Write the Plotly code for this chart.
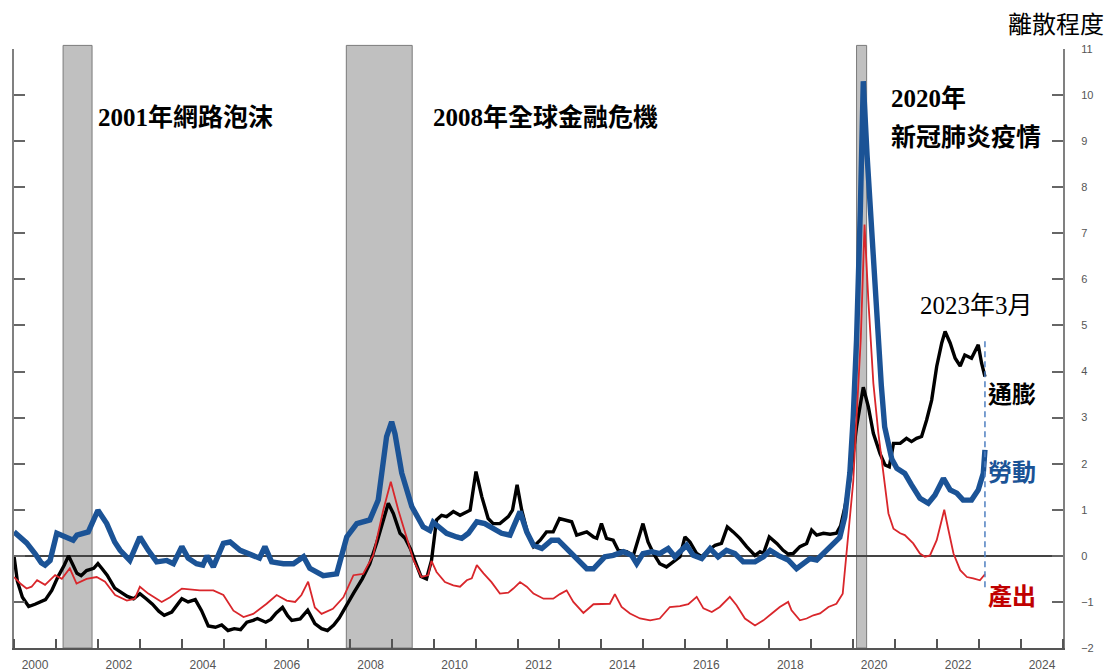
import plotly.graph_objects as go

# ---------------- data (decimal years, dispersion values) ----------------
infl_t = [2000.00,2000.08,2000.20,2000.35,2000.50,2000.62,2000.75,2000.90,2001.05,2001.20,2001.30,2001.38,2001.50,2001.60,2001.73,2001.90,
          2002.00,2002.10,2002.22,2002.40,2002.55,2002.70,2002.85,2003.00,2003.15,2003.30,2003.45,2003.58,2003.76,2003.90,
          2004.00,2004.15,2004.32,2004.47,2004.63,2004.80,2004.95,2005.10,2005.25,2005.40,2005.55,2005.70,2005.80,
          2006.00,2006.12,2006.25,2006.40,2006.52,2006.62,2006.82,2007.00,2007.17,2007.33,2007.47,2007.62,2007.75,2007.93,
          2008.10,2008.30,2008.48,2008.65,2008.80,2008.92,2009.04,2009.20,2009.32,2009.45,2009.55,2009.70,2009.83,2009.95,
          2010.07,2010.19,2010.31,2010.47,2010.63,2010.87,2011.01,2011.15,2011.30,2011.42,2011.58,2011.78,2011.88,2011.99,
          2012.10,2012.22,2012.38,2012.54,2012.69,2012.85,2013.00,2013.17,2013.29,2013.41,2013.65,2013.81,2013.89,
          2014.00,2014.12,2014.28,2014.40,2014.60,2014.76,2014.99,2015.11,2015.24,2015.39,2015.55,2015.71,2015.87,2015.99,
          2016.11,2016.27,2016.39,2016.55,2016.71,2016.86,2017.00,2017.14,2017.30,2017.46,2017.66,2017.78,2017.86,
          2018.00,2018.18,2018.33,2018.45,2018.57,2018.73,2018.89,2019.01,2019.13,2019.29,2019.45,2019.60,2019.70,2019.80,2019.92,
          2020.08,2020.24,2020.36,2020.48,2020.64,2020.76,2020.86,2020.96,2021.12,2021.27,2021.39,2021.51,2021.63,2021.75,2021.87,
          2021.99,2022.11,2022.19,2022.31,2022.43,2022.55,2022.66,2022.82,2022.98,2023.06,2023.14]
infl_v = [0.0,-0.55,-0.9,-1.1,-1.05,-1.0,-0.95,-0.75,-0.45,-0.2,0.0,-0.15,-0.38,-0.43,-0.32,-0.27,
          -0.17,-0.28,-0.42,-0.7,-0.78,-0.88,-0.93,-0.82,-0.93,-1.05,-1.2,-1.29,-1.22,-1.05,
          -0.93,-1.0,-0.95,-1.19,-1.52,-1.55,-1.5,-1.62,-1.58,-1.6,-1.44,-1.4,-1.36,
          -1.44,-1.38,-1.24,-1.12,-1.3,-1.4,-1.37,-1.18,-1.47,-1.58,-1.62,-1.5,-1.35,-1.05,
          -0.8,-0.5,-0.17,0.3,0.8,1.14,0.92,0.49,0.38,0.15,-0.1,-0.45,-0.5,-0.1,
          0.78,0.88,0.85,0.96,0.88,0.99,1.83,1.28,0.81,0.70,0.70,0.85,0.99,1.54,
          0.99,0.56,0.2,0.34,0.52,0.52,0.81,0.78,0.74,0.45,0.52,0.41,0.38,
          0.70,0.38,0.34,0.12,0.09,0.01,0.70,0.30,0.05,-0.17,-0.24,-0.13,-0.02,0.41,
          0.30,0.05,-0.02,0.12,0.23,0.27,0.63,0.52,0.38,0.2,0.01,0.09,0.05,
          0.41,0.27,0.12,0.04,0.05,0.2,0.27,0.56,0.45,0.49,0.47,0.49,0.65,1.05,1.64,
          2.8,3.66,3.24,2.66,2.22,1.97,1.93,2.44,2.44,2.55,2.48,2.55,2.59,2.95,3.38,
          4.11,4.62,4.87,4.62,4.29,4.12,4.36,4.29,4.58,4.18,3.89]

labor_t = [2000.00,2000.15,2000.30,2000.50,2000.65,2000.74,2000.86,2001.02,2001.18,2001.30,2001.41,2001.50,2001.65,2001.77,
           2002.00,2002.21,2002.40,2002.53,2002.76,2003.00,2003.20,2003.40,2003.64,2003.80,2004.00,2004.15,2004.35,2004.50,
           2004.60,2004.75,2004.99,2005.15,2005.39,2005.70,2005.85,2005.98,2006.14,2006.42,2006.66,2006.90,2007.05,2007.37,
           2007.55,2007.69,2007.93,2008.17,2008.48,2008.68,2008.88,2009.00,2009.08,2009.24,2009.48,2009.75,2009.91,2009.99,
           2010.07,2010.31,2010.55,2010.67,2010.83,2011.03,2011.22,2011.42,2011.62,2011.82,2012.06,2012.22,2012.38,2012.58,
           2012.81,2012.97,2013.17,2013.41,2013.65,2013.81,2013.97,2014.08,2014.28,2014.52,2014.72,2014.84,2014.99,2015.20,
           2015.39,2015.59,2015.75,2015.87,2016.03,2016.19,2016.39,2016.59,2016.78,2016.98,2017.18,2017.38,2017.66,2017.86,
           2018.02,2018.21,2018.45,2018.65,2018.81,2018.97,2019.13,2019.33,2019.52,2019.68,2019.80,2019.92,2020.00,2020.08,
           2020.17,2020.24,2020.33,2020.42,2020.50,2020.58,2020.67,2020.75,2020.83,2020.92,2021.04,2021.23,2021.39,2021.59,
           2021.79,2021.95,2022.15,2022.31,2022.47,2022.62,2022.82,2022.98,2023.10,2023.14]
labor_v = [0.52,0.4,0.28,0.05,-0.15,-0.2,-0.1,0.49,0.42,0.4,0.34,0.45,0.48,0.52,
           0.99,0.7,0.3,0.12,-0.1,0.41,0.12,-0.13,-0.1,-0.17,0.2,-0.05,-0.17,-0.2,
           0.0,-0.24,0.27,0.3,0.12,0.01,-0.05,0.2,-0.13,-0.17,-0.17,-0.02,-0.27,-0.43,
           -0.4,-0.39,0.41,0.7,0.78,1.21,2.59,2.91,2.65,1.8,1.07,0.63,0.55,0.73,
           0.67,0.49,0.41,0.38,0.49,0.74,0.70,0.59,0.49,0.45,0.96,0.52,0.23,0.16,
           0.34,0.34,0.16,-0.09,-0.28,-0.28,-0.13,-0.02,0.01,0.09,0.01,-0.17,0.05,0.09,
           0.05,0.16,-0.02,0.09,0.23,0.01,-0.06,0.16,-0.02,0.12,0.05,-0.13,-0.13,-0.02,
           0.12,0.01,-0.09,-0.28,-0.17,-0.06,-0.09,0.09,0.23,0.4,0.85,1.8,3.0,4.7,
           7.5,10.3,8.7,7.3,6.0,4.7,3.7,2.8,2.4,2.1,1.9,1.79,1.54,1.25,
           1.14,1.32,1.68,1.43,1.36,1.21,1.21,1.43,1.79,2.3]

output_t = [2000.00,2000.15,2000.30,2000.42,2000.55,2000.74,2000.98,2001.14,2001.33,2001.49,2001.73,2001.97,2002.17,2002.41,
            2002.69,2002.88,2003.00,2003.20,2003.52,2003.72,2004.00,2004.43,2004.75,2004.99,2005.23,2005.47,2005.70,2006.02,
            2006.26,2006.50,2006.70,2006.85,2007.01,2007.17,2007.33,2007.60,2007.85,2008.09,2008.32,2008.56,2008.80,2008.98,
            2009.16,2009.32,2009.52,2009.71,2009.87,2009.95,2010.07,2010.27,2010.47,2010.63,2010.79,2010.91,2011.03,2011.19,
            2011.38,2011.58,2011.78,2011.90,2012.06,2012.22,2012.38,2012.62,2012.85,2013.01,2013.17,2013.33,2013.57,2013.81,
            2014.04,2014.20,2014.32,2014.48,2014.68,2014.92,2015.16,2015.39,2015.63,2015.87,2016.07,2016.27,2016.43,2016.63,
            2016.82,2017.06,2017.22,2017.42,2017.66,2017.86,2018.06,2018.25,2018.45,2018.53,2018.73,2018.89,2019.05,2019.21,
            2019.41,2019.60,2019.75,2019.84,2019.92,2020.00,2020.08,2020.18,2020.27,2020.36,2020.48,2020.60,2020.72,2020.84,
            2020.96,2021.12,2021.23,2021.43,2021.59,2021.71,2021.83,2021.99,2022.11,2022.17,2022.27,2022.39,2022.55,2022.71,
            2022.86,2023.02,2023.14]
output_v = [-0.46,-0.6,-0.71,-0.67,-0.53,-0.63,-0.42,-0.5,-0.27,-0.6,-0.5,-0.46,-0.56,-0.85,
            -0.97,-0.93,-0.67,-0.82,-1.0,-0.9,-0.71,-0.75,-0.75,-0.85,-1.19,-1.33,-1.26,-1.04,
            -0.85,-0.97,-1.0,-0.85,-0.56,-1.12,-1.26,-1.15,-0.9,-0.42,-0.39,0.01,0.99,1.61,
            0.99,0.49,-0.09,-0.46,-0.42,-0.11,-0.35,-0.57,-0.64,-0.67,-0.53,-0.49,-0.2,-0.38,
            -0.57,-0.82,-0.8,-0.71,-0.57,-0.67,-0.82,-0.93,-0.93,-0.83,-0.75,-1.0,-1.24,-1.05,
            -1.04,-1.04,-0.83,-1.11,-1.25,-1.36,-1.4,-1.36,-1.11,-1.09,-1.05,-0.89,-1.14,-1.22,
            -1.11,-0.89,-1.07,-1.36,-1.51,-1.4,-1.25,-1.11,-1.0,-1.18,-1.4,-1.36,-1.29,-1.25,
            -1.11,-1.04,-0.82,0.1,0.9,1.6,3.0,4.7,7.19,5.56,3.75,2.66,1.79,0.92,
            0.59,0.49,0.45,0.27,0.05,-0.02,0.01,0.34,0.78,1.0,0.56,0.05,-0.31,-0.46,
            -0.49,-0.53,-0.4]

recessions = [(2001.17, 2001.86), (2007.92, 2009.49), (2020.08, 2020.32)]
latest_date = 2023.14
latest_span = [-0.68, 4.69]

year_label_pos = [2000.5 + 2 * i for i in range(13)]
year_labels = [str(2000 + 2 * i) for i in range(13)]

# ---------------- figure ----------------
W, H = 1112, 671
L, R, T, B = 14, 49, 49, 23

def px(xp, yp):
    return (xp - L) / (W - L - R), (H - B - yp) / (H - T - B)

fig = go.Figure()
fig.add_trace(go.Scatter(x=infl_t, y=infl_v, mode="lines", line=dict(color="#000000", width=3.4), showlegend=False))
fig.add_trace(go.Scatter(x=labor_t, y=labor_v, mode="lines", line=dict(color="#1b5396", width=5.4), showlegend=False))
fig.add_trace(go.Scatter(x=output_t, y=output_v, mode="lines", line=dict(color="#d9262b", width=1.8), showlegend=False))
fig.add_trace(go.Scatter(x=[latest_date, latest_date], y=latest_span, mode="lines",
                         line=dict(color="#4f7fc0", width=1.5, dash="6px,4px"), showlegend=False))

shapes = []
for a, b in recessions:
    shapes.append(dict(type="rect", xref="x", yref="paper", x0=a, x1=b, y0=0, y1=1.006,
                       fillcolor="#c0c0c0", line=dict(color="#7a7a7a", width=1), layer="below"))

CJK = "Liberation Serif, Noto Sans CJK TC, serif"
ann = []
def add_text(text, xp, yp, color="#000", size=25, bold=True):
    x, y = px(xp, yp)
    ann.append(dict(text=("<b>%s</b>" % text) if bold else text, x=x, y=y, xref="paper", yref="paper",
                    xanchor="left", yanchor="middle", showarrow=False,
                    font=dict(family=CJK, size=size, color=color)))

add_text("2001年網路泡沫", 96, 118)
add_text("2008年全球金融危機", 431, 118)
add_text("2020年", 889, 98)
add_text("新冠肺炎疫情", 889, 138)
add_text("2023年3月", 918, 306, bold=False)
add_text("通膨", 986, 395, size=24)
add_text("勞動", 986, 473, color="#1b5396", size=24)
add_text("產出", 986, 596, color="#c00000", size=24)
add_text("離散程度", 1006, 25, bold=False, size=24)

fig.update_layout(
    width=W, height=H, margin=dict(l=L, r=R, t=T, b=B, autoexpand=False),
    paper_bgcolor="white", plot_bgcolor="white",
    shapes=shapes, annotations=ann,
    xaxis=dict(range=[2000, 2025], showgrid=False, zeroline=False, automargin=False,
               showline=True, linecolor="#555", linewidth=2,
               tickmode="array", tickvals=year_label_pos, ticktext=year_labels, ticks="",
               tickfont=dict(family="Liberation Sans, Arial", size=12, color="#555"),
               ticklabelstandoff=5,
               minor=dict(tickmode="linear", tick0=2000, dtick=1, ticks="inside", ticklen=9,
                          tickcolor="#555", tickwidth=1.5, showgrid=False)),
    yaxis=dict(range=[-2, 11], side="right", showgrid=False, dtick=1, tick0=0, automargin=False,
               zeroline=True, zerolinecolor="#444", zerolinewidth=1.5,
               showline=True, linecolor="#808080", linewidth=2, mirror="ticks",
               ticks="inside", ticklen=11, tickcolor="#666", tickwidth=1.5,
               tickfont=dict(family="Liberation Sans, Arial", size=11, color="#555"),
               ticklabelstandoff=14),
)

# remove the default 8px page margin so the 1112x671 figure fills the window exactly
fig.write_html("out.html", config={"displayModeBar": False},
               post_script="document.body.style.margin='0';document.body.style.overflow='hidden';")
